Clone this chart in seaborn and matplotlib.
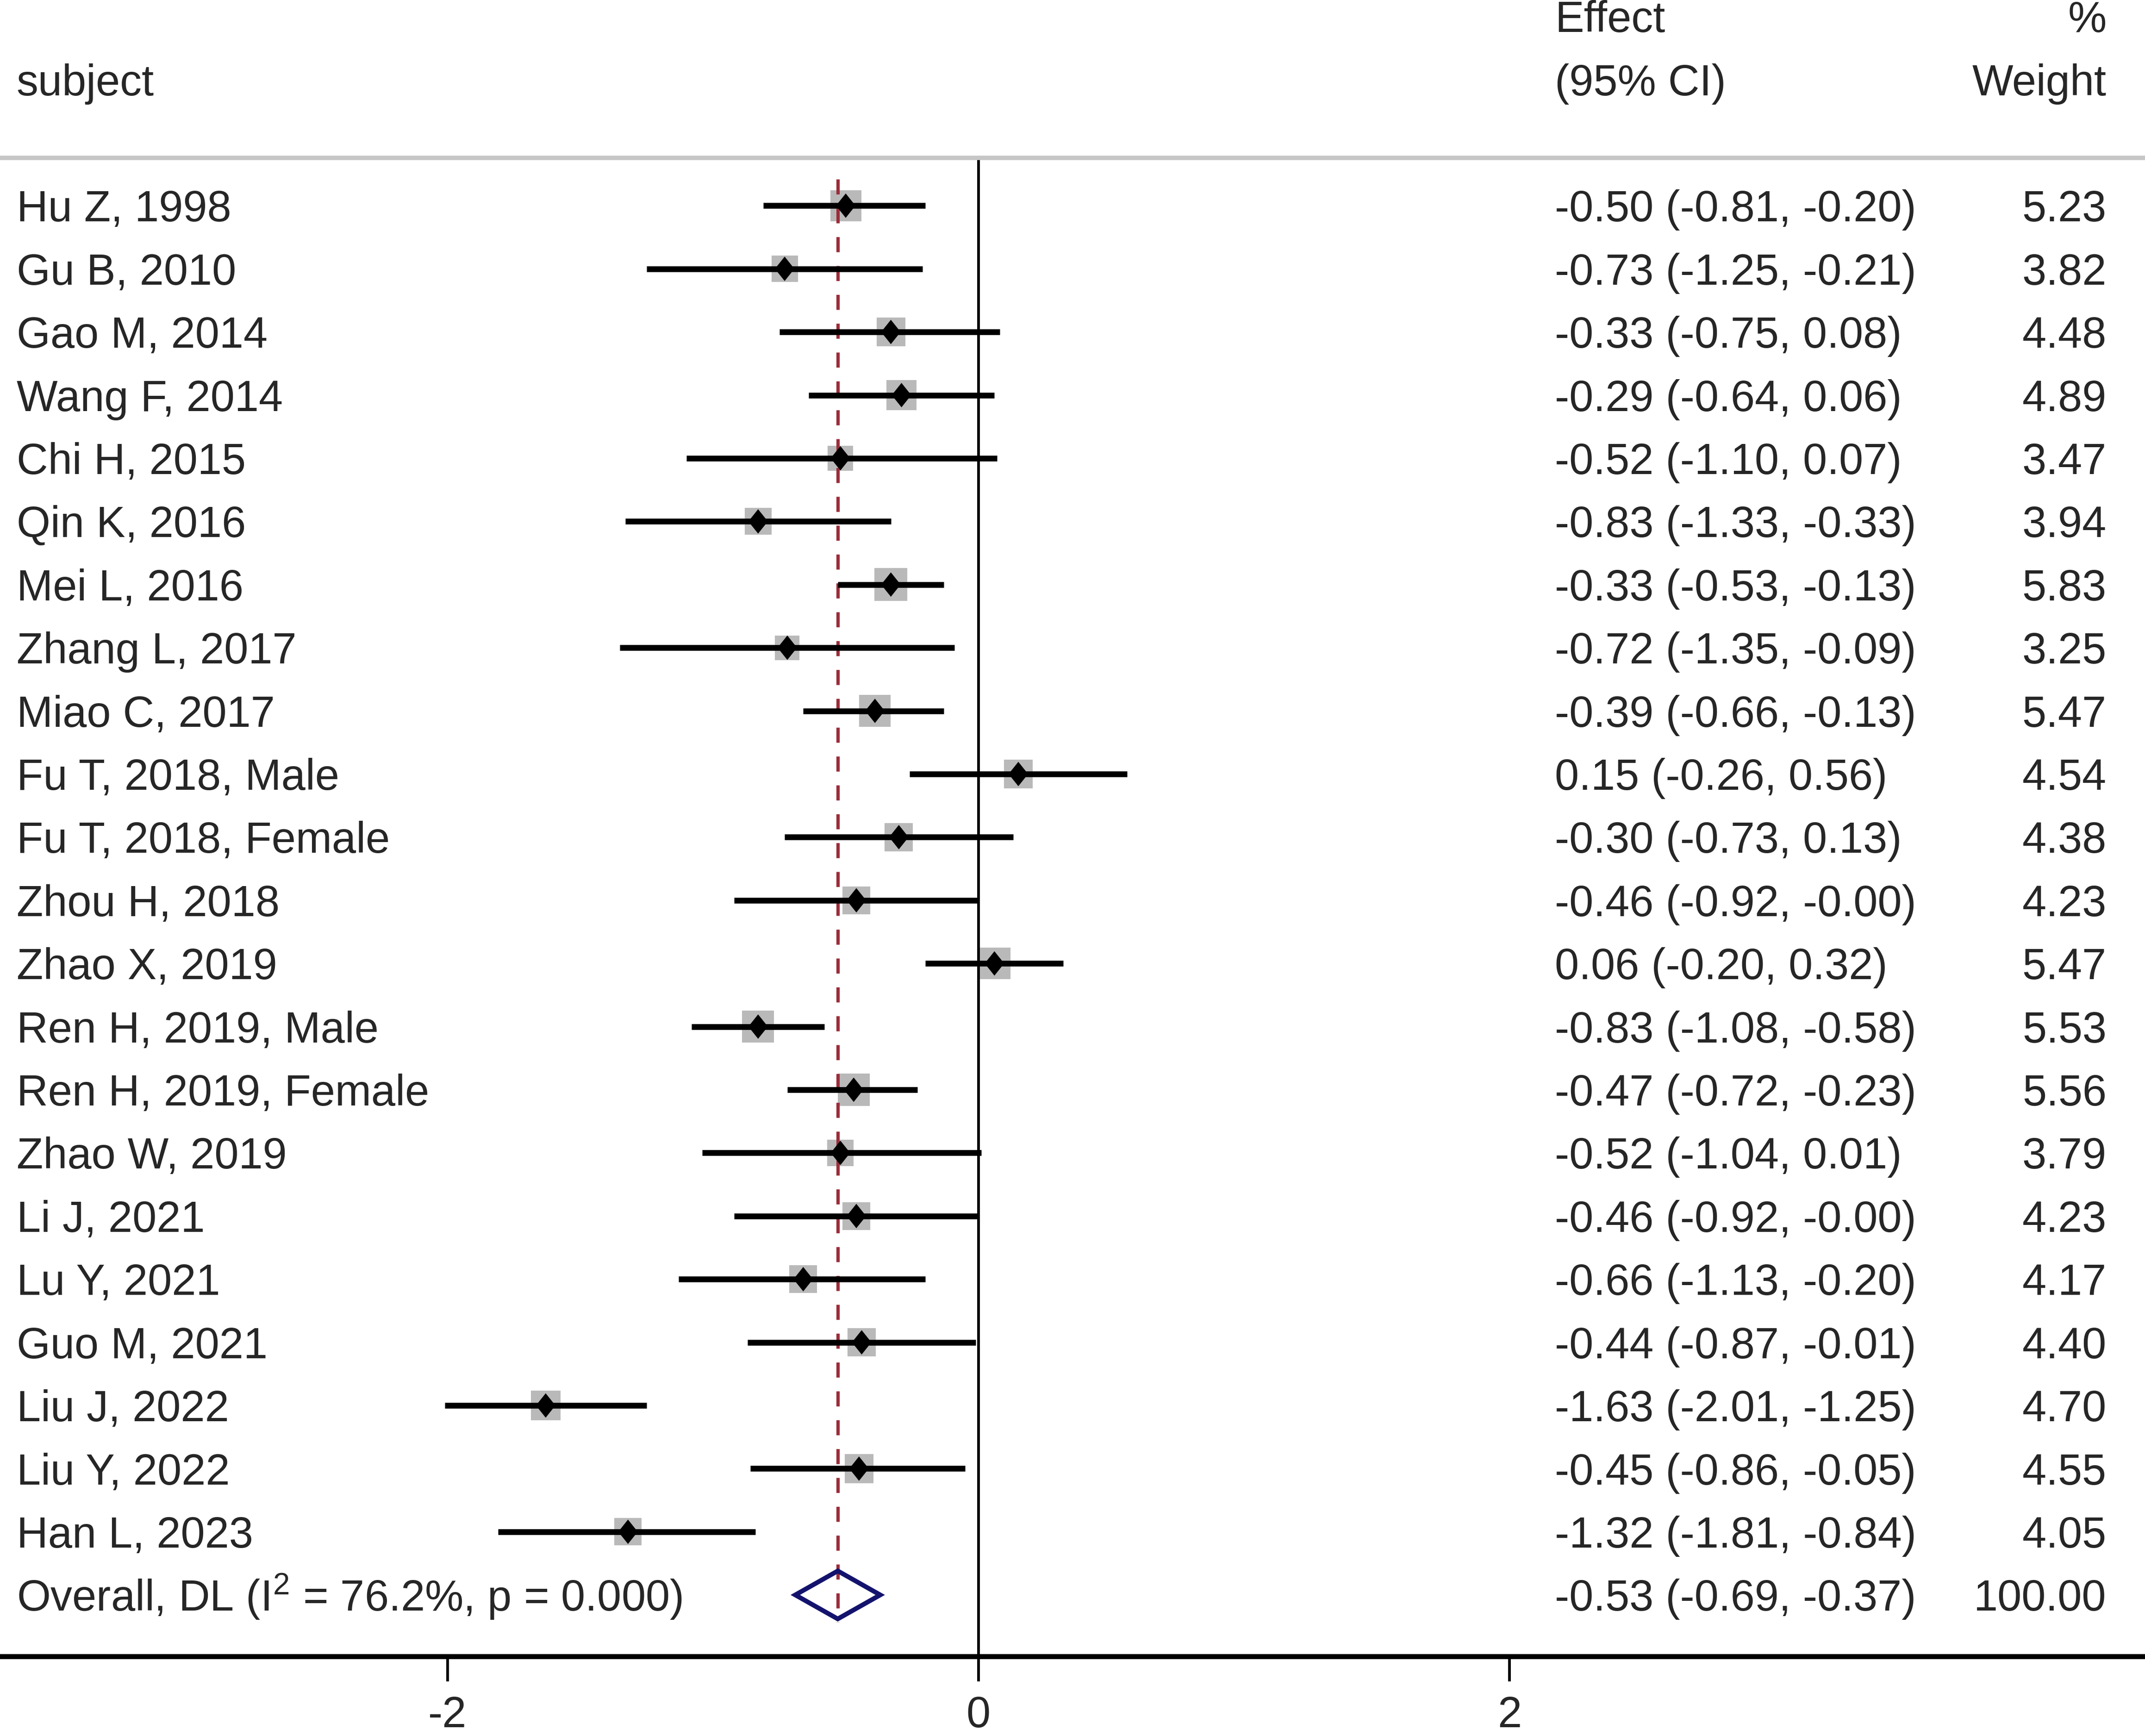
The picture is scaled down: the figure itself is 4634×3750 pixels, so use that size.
import numpy as np
import pandas as pd
import matplotlib
matplotlib.use("Agg")
import matplotlib.pyplot as plt
import seaborn as sns

# ---------------- data ----------------
studies = ["Hu Z, 1998", "Gu B, 2010", "Gao M, 2014", "Wang F, 2014", "Chi H, 2015",
           "Qin K, 2016", "Mei L, 2016", "Zhang L, 2017", "Miao C, 2017",
           "Fu T, 2018, Male", "Fu T, 2018, Female", "Zhou H, 2018", "Zhao X, 2019",
           "Ren H, 2019, Male", "Ren H, 2019, Female", "Zhao W, 2019", "Li J, 2021",
           "Lu Y, 2021", "Guo M, 2021", "Liu J, 2022", "Liu Y, 2022", "Han L, 2023"]
effect = [-0.50, -0.73, -0.33, -0.29, -0.52, -0.83, -0.33, -0.72, -0.39, 0.15, -0.30,
          -0.46, 0.06, -0.83, -0.47, -0.52, -0.46, -0.66, -0.44, -1.63, -0.45, -1.32]
lower = [-0.81, -1.25, -0.75, -0.64, -1.10, -1.33, -0.53, -1.35, -0.66, -0.26, -0.73,
         -0.92, -0.20, -1.08, -0.72, -1.04, -0.92, -1.13, -0.87, -2.01, -0.86, -1.81]
upper = [-0.20, -0.21, 0.08, 0.06, 0.07, -0.33, -0.13, -0.09, -0.13, 0.56, 0.13,
         -0.00, 0.32, -0.58, -0.23, 0.01, -0.00, -0.20, -0.01, -1.25, -0.05, -0.84]
weight = [5.23, 3.82, 4.48, 4.89, 3.47, 3.94, 5.83, 3.25, 5.47, 4.54, 4.38,
          4.23, 5.47, 5.53, 5.56, 3.79, 4.23, 4.17, 4.40, 4.70, 4.55, 4.05]

overall_label = "Overall, DL (I$^{2}$ = 76.2%, p = 0.000)"
overall_effect = -0.53
overall_lower = -0.69
overall_upper = -0.37
overall_weight = 100.00

header_subject = "subject"
header_effect = ["Effect", "(95% CI)"]
header_weight = ["%", "Weight"]
xticks = [-2, 0, 2]
xtick_labels = ["-2", "0", "2"]

# ---------------- style ----------------
sns.set_style("white")
plt.rcParams["font.family"] = ["Liberation Sans", "DejaVu Sans"]
plt.rcParams["mathtext.fontset"] = "custom"
plt.rcParams["mathtext.rm"] = "Liberation Sans"
plt.rcParams["mathtext.it"] = "Liberation Sans:italic"
plt.rcParams["mathtext.bf"] = "Liberation Sans:bold"
plt.rcParams["axes.unicode_minus"] = False

FS = 22.5
df = pd.DataFrame(dict(study=studies, effect=effect, lower=lower, upper=upper, weight=weight))
df["row"] = np.arange(len(df))
n = len(df)
orow = n  # overall row

fig = plt.figure(figsize=(4634 / 300, 3750 / 300), dpi=300)
fig.patch.set_facecolor("white")
ax = fig.add_axes([0, 0.0458, 1, 0.9542])
ax.set_facecolor("white")

# weight squares
sns.scatterplot(data=df, x="effect", y="row", marker="s", s=df["weight"].values * 49.4,
                color="#b9b9b9", edgecolor="none", linewidth=0, zorder=1,
                legend=False, ax=ax)

# confidence intervals
ax.hlines(df["row"], df["lower"], df["upper"], color="black", lw=3.0,
          capstyle="butt", zorder=3)

# point estimates (tall diamonds)
diamond = [(0, 1), (0.8, 0), (0, -1), (-0.8, 0), (0, 1)]
sns.scatterplot(data=df, x="effect", y="row", marker=diamond, s=160,
                color="black", edgecolor="none", linewidth=0, zorder=4,
                legend=False, ax=ax)

# overall effect dashed line
ax.plot([overall_effect, overall_effect], [-0.42, orow + 0.43], color="#9b2d3a",
        lw=1.7, dashes=(4.6, 4.2), zorder=2)

# null line
ax.plot([0, 0], [-0.76, 22.975], color="black", lw=1.4, zorder=2, solid_capstyle="butt")

# header separator
ax.plot([-3.685, 4.393], [-0.76, -0.76], color="#c6c6c6", lw=2.3, zorder=2,
        solid_capstyle="butt")

# overall diamond
hh = 0.38
ax.fill([overall_lower, overall_effect, overall_upper, overall_effect],
        [orow, orow - hh, orow, orow + hh], facecolor="none", edgecolor="#13136e",
        lw=2.4, zorder=5, joinstyle="miter")

# ---------------- texts ----------------
x_lab = -3.623
x_eff = 2.170
x_w = 4.248
boff = 0.25

for _, r in df.iterrows():
    y = r["row"] + boff
    ax.text(x_lab, y, r["study"], fontsize=FS, ha="left", va="baseline")
    ax.text(x_eff, y, f"{r['effect']:.2f} ({r['lower']:.2f}, {r['upper']:.2f})",
            fontsize=FS, ha="left", va="baseline")
    ax.text(x_w, y, f"{r['weight']:.2f}", fontsize=FS, ha="right", va="baseline")

ax.text(x_lab, orow + boff, overall_label, fontsize=FS, ha="left", va="baseline")
ax.text(x_eff, orow + boff,
        f"{overall_effect:.2f} ({overall_lower:.2f}, {overall_upper:.2f})",
        fontsize=FS, ha="left", va="baseline")
ax.text(x_w, orow + boff, f"{overall_weight:.2f}", fontsize=FS, ha="right", va="baseline")

ax.text(x_lab, -2 + boff, header_subject, fontsize=FS, ha="left", va="baseline")
ax.text(x_eff, -3 + boff, header_effect[0], fontsize=FS, ha="left", va="baseline")
ax.text(x_eff, -2 + boff, header_effect[1], fontsize=FS, ha="left", va="baseline")
ax.text(x_w, -3 + boff, header_weight[0], fontsize=FS, ha="right", va="baseline")
ax.text(x_w, -2 + boff, header_weight[1], fontsize=FS, ha="right", va="baseline")

# ---------------- axes ----------------
ax.set_xlim(-3.685, 4.393)
ax.set_ylim(22.975, -3.257)
ax.set_xticks(xticks)
ax.set_xticklabels(xtick_labels, fontsize=FS)
ax.set_yticks([])
ax.set_xlabel("")
ax.set_ylabel("")
for s in ["top", "left", "right"]:
    ax.spines[s].set_visible(False)
ax.spines["bottom"].set_linewidth(2.6)
ax.spines["bottom"].set_color("black")
ax.tick_params(axis="x", direction="out", length=13, width=1.4, color="black",
               pad=7, labelsize=FS, bottom=True)

fig.savefig("out.png", dpi=300, facecolor="white")
